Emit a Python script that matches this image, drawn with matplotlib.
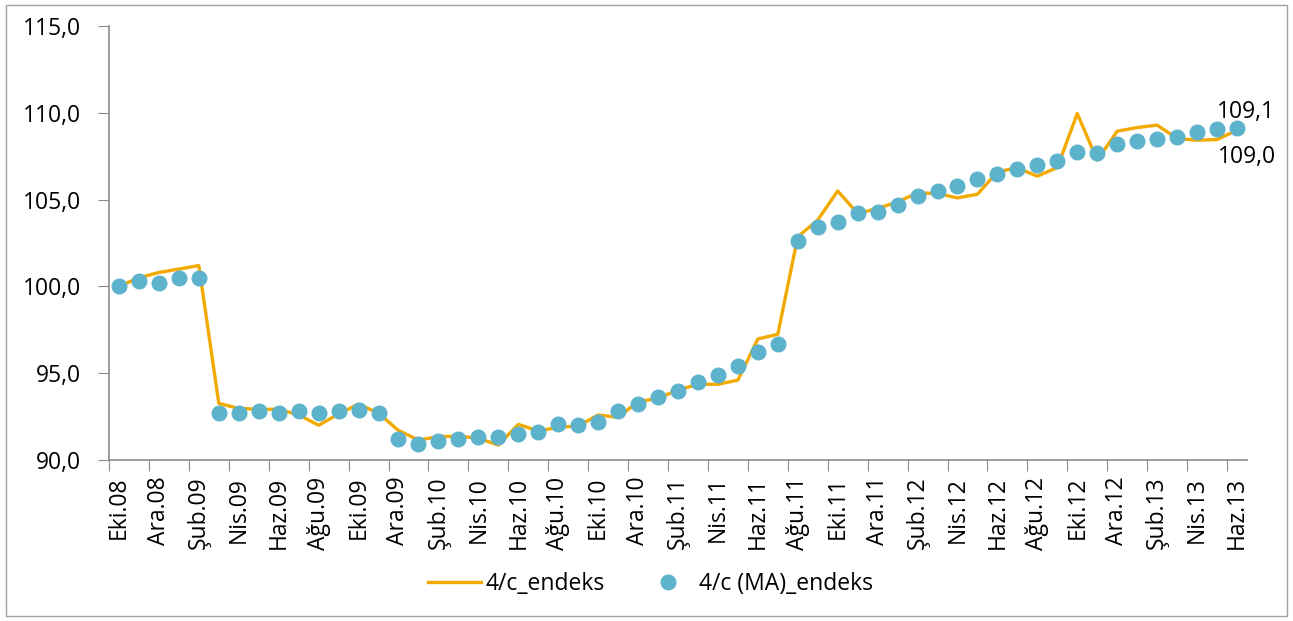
import matplotlib
matplotlib.use("Agg")
import matplotlib.pyplot as plt
from matplotlib.patches import Rectangle
from matplotlib.ticker import FuncFormatter, FixedLocator

# monthly, Eki.08 .. Haz.13
MONTHS = ["Oca", "Şub", "Mar", "Nis", "May", "Haz", "Tem", "Ağu", "Eyl", "Eki", "Kas", "Ara"]
periods = [f"{MONTHS[(9 + i) % 12]}.{(8 + (9 + i) // 12):02d}" for i in range(57)]

endeks = [100.0, 100.5, 100.8, 101.0, 101.2,
          93.26, 92.97, 92.92, 92.92, 92.6, 92.0, 92.65, 93.22, 92.69,
          91.7, 91.15, 91.34, 91.38, 91.25, 90.86, 92.05, 91.67, 91.88, 91.96,
          92.59, 92.46, 93.36, 93.55, 94.03, 94.36, 94.36, 94.6, 96.97, 97.24,
          102.86, 103.82, 105.5, 104.2, 104.49, 104.87, 105.39, 105.35, 105.1,
          105.31, 106.6, 106.83, 106.35, 106.85, 109.96, 107.27, 108.94, 109.15,
          109.29, 108.52, 108.42, 108.46, 109.0]

ma_endeks = [100.0, 100.3, 100.2, 100.5, 100.5,
             92.7, 92.7, 92.8, 92.7, 92.8, 92.7, 92.8, 92.9, 92.7,
             91.2, 90.9, 91.1, 91.2, 91.3, 91.3, 91.5, 91.6, 92.1, 92.0,
             92.2, 92.8, 93.2, 93.6, 94.0, 94.5, 94.9, 95.4, 96.2, 96.7,
             102.6, 103.4, 103.7, 104.2, 104.3, 104.7, 105.2, 105.5, 105.8,
             106.2, 106.5, 106.75, 107.0, 107.2, 107.75, 107.7, 108.2, 108.4,
             108.5, 108.6, 108.9, 109.05, 109.13]

ORANGE = "#F2AA00"
BLUE = "#5DB3CB"
GREY = "#8C8C8C"
FS = 16.5

plt.rcParams["font.family"] = ["Open Sans", "DejaVu Sans"]

fig = plt.figure(figsize=(12.93, 6.21), dpi=100)
ax = fig.add_axes([0.0843, 0.2593, 0.8801, 0.6988])

x = list(range(len(periods)))
ax.plot(x, endeks, color=ORANGE, lw=2.4, label="4/c_endeks", zorder=2)
ax.plot(x, ma_endeks, ls="none", marker="o", ms=10.5, color=BLUE,
        label="4/c (MA)_endeks", zorder=3)

ax.set_xlim(-0.5, len(periods) - 0.5)
ax.set_ylim(90, 115)
ax.set_yticks([90, 95, 100, 105, 110, 115])
fmt = lambda v, p=None: f"{v:.1f}".replace(".", ",")
ax.yaxis.set_major_formatter(FuncFormatter(fmt))

# category boundaries get the tick marks, labels sit on every second month
ax.xaxis.set_major_locator(FixedLocator([i - 0.5 for i in range(0, len(periods), 2)]))
ax.set_xticklabels([])
ax.set_xticks(x[::2], minor=True)
ax.set_xticklabels(periods[::2], minor=True, rotation=90)
ax.tick_params(axis="x", which="minor", length=0, pad=12)
ax.tick_params(axis="x", which="major", length=8, color=GREY)
ax.tick_params(axis="y", length=8, color=GREY, pad=12)
ax.tick_params(which="both", labelsize=FS)

for side in ("top", "right"):
    ax.spines[side].set_visible(False)
for side in ("left", "bottom"):
    ax.spines[side].set_color(GREY)
    ax.spines[side].set_linewidth(1.2)

ax.annotate(fmt(ma_endeks[-1]), (x[-1], ma_endeks[-1]), xytext=(-14.4, 11.3),
            textcoords="offset points", fontsize=FS, ha="left", va="center")
ax.annotate(fmt(endeks[-1]), (x[-1], endeks[-1]), xytext=(-13.7, -19.4),
            textcoords="offset points", fontsize=FS, ha="left", va="center")

fig.legend(loc="center", bbox_to_anchor=(0.503, 0.06), ncol=2, frameon=False,
           fontsize=FS, handlelength=2.3, columnspacing=1.6, handletextpad=0.2)

fig.patches.append(Rectangle((0.005, 0.008), 0.99, 0.984, transform=fig.transFigure,
                             fill=False, edgecolor="#A0A0A0", lw=1))

fig.savefig("out.png", dpi=100)
